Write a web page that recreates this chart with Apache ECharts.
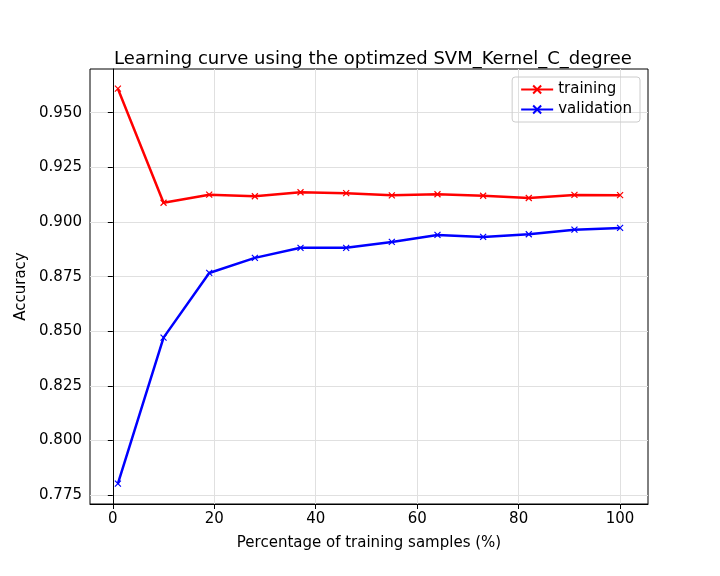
<!DOCTYPE html>
<html>
<head>
<meta charset="utf-8">
<script src="https://cdn.jsdelivr.net/npm/echarts@6/dist/echarts.min.js"></script>
<style>html,body{margin:0;padding:0;background:#fff}#chart{width:720px;height:576px}</style>
</head>
<body>
<div id="chart"></div>
<script>
// 训练样本百分比
var samplePct = [1, 10, 19, 28, 37, 46, 55, 64, 73, 82, 91, 100];
var trainingAcc = [0.961, 0.9088, 0.9125, 0.9118, 0.9136, 0.9132, 0.9122, 0.9127, 0.9120, 0.9110, 0.9124, 0.9123];
var validationAcc = [0.7803, 0.8471, 0.8767, 0.8836, 0.8882, 0.8882, 0.8909, 0.8941, 0.8932, 0.8944, 0.8965, 0.8973];
var xTicks = [0, 20, 40, 60, 80, 100];
var yTicks = [0.775, 0.8, 0.825, 0.85, 0.875, 0.9, 0.925, 0.95];

function pairs(xs, ys) {
    var out = [];
    for (var i = 0; i < xs.length; i++) out.push([xs[i], ys[i]]);
    return out;
}

var font = 'DejaVu Sans';
var xMark = 'path://M0,0L10,10M10,0L0,10';
var chart = echarts.init(document.getElementById('chart'));
chart.setOption({
    animation: false,
    textStyle: { fontFamily: font },
    title: {
        text: 'Learning curve using the optimzed SVM_Kernel_C_degree',
        left: 368, top: 45, textAlign: 'center',
        textStyle: { fontFamily: font, fontSize: 18, fontWeight: 'normal', color: '#000' }
    },
    legend: {
        right: 80, top: 77, orient: 'vertical', itemGap: 5,
        borderColor: '#ccc', borderWidth: 1, borderRadius: 3, padding: [5, 8],
        itemWidth: 32, itemHeight: 10,
        textStyle: { fontFamily: font, fontSize: 15, color: '#000' },
        data: ['training', 'validation']
    },
    grid: { left: 90, right: 72, top: 69, bottom: 72, show: true, borderColor: '#000', borderWidth: 1 },
    xAxis: {
        type: 'value', min: -4.5, max: 105.5,
        name: 'Percentage of training samples (%)', nameLocation: 'middle', nameGap: 32,
        nameTextStyle: { fontFamily: font, fontSize: 15, color: '#000' },
        axisLine: { lineStyle: { color: '#000' } },
        axisTick: { show: true, lineStyle: { color: '#000' }, customValues: xTicks },
        axisLabel: { fontFamily: font, fontSize: 15, color: '#000', customValues: xTicks },
        splitLine: { show: true, lineStyle: { color: '#e0e0e0' } }
    },
    yAxis: {
        type: 'value', min: 0.771, max: 0.970,
        name: 'Accuracy', nameLocation: 'middle', nameGap: 60,
        nameTextStyle: { fontFamily: font, fontSize: 15, color: '#000' },
        axisLine: { show: true, lineStyle: { color: '#000' } },
        axisTick: { show: true, lineStyle: { color: '#000' }, customValues: yTicks },
        axisLabel: { fontFamily: font, fontSize: 15, color: '#000', customValues: yTicks,
            formatter: function (v) { return v.toFixed(3); } },
        splitLine: { show: true, lineStyle: { color: '#e0e0e0' } }
    },
    series: [{
        name: 'training', type: 'line', data: pairs(samplePct, trainingAcc),
        symbol: xMark, symbolSize: 6,
        lineStyle: { color: '#ff0000', width: 2.5 },
        itemStyle: { color: '#ff0000', borderColor: '#ff0000', borderWidth: 1.2 }
    }, {
        name: 'validation', type: 'line', data: pairs(samplePct, validationAcc),
        symbol: xMark, symbolSize: 6,
        lineStyle: { color: '#0000ff', width: 2.5 },
        itemStyle: { color: '#0000ff', borderColor: '#0000ff', borderWidth: 1.2 }
    }]
});
</script>
</body>
</html>
